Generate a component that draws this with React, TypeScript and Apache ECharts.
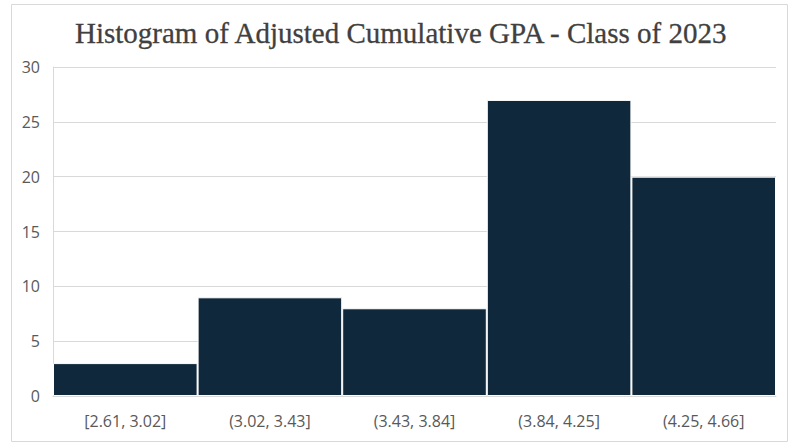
import React, { useEffect, useRef } from "react";
import * as echarts from "echarts";

const categories = ["[2.61, 3.02]", "(3.02, 3.43]", "(3.43, 3.84]", "(3.84, 4.25]", "(4.25, 4.66]"];
const counts = [3, 9, 8, 27, 20];
const yTicks = { min: 0, max: 30, interval: 5 };
const titleText = "Histogram of Adjusted Cumulative GPA - Class of 2023";

export default function App() {
  const ref = useRef<HTMLDivElement>(null);
  useEffect(() => {
    const chart = echarts.init(ref.current!, null, { renderer: "svg" });
    chart.setOption({
      animation: false,
      backgroundColor: "#ffffff",
      title: {
        text: titleText,
        left: 70,
        top: 13,
        textStyle: {
          fontFamily: "Liberation Serif",
          fontWeight: "normal",
          fontSize: 29,
          color: "#404040",
          textBorderColor: "#404040",
          textBorderWidth: 0.3,
        },
      },
      graphic: [
        {
          type: "rect",
          shape: { x: 11.5, y: 4.5, width: 776, height: 437 },
          style: { fill: "none", stroke: "#d9d9d9", lineWidth: 1 },
          silent: true,
        },
      ],
      grid: { left: 53, right: 13, top: 67, bottom: 47 },
      xAxis: {
        type: "category",
        data: categories,
        axisLine: { show: true, lineStyle: { color: "#d9d9d9" } },
        axisTick: { show: false },
        axisLabel: {
          color: "#595959",
          fontSize: 16,
          fontFamily: "Open Sans",
          margin: 17,
        },
      },
      yAxis: {
        type: "value",
        min: yTicks.min,
        max: yTicks.max,
        interval: yTicks.interval,
        axisLine: { show: true, lineStyle: { color: "#d9d9d9" } },
        axisTick: { show: false },
        splitLine: { lineStyle: { color: "#d9d9d9" } },
        axisLabel: {
          color: "#595959",
          fontSize: 16,
          fontFamily: "Open Sans",
          margin: 13,
        },
      },
      series: [
        {
          type: "bar",
          data: counts,
          barCategoryGap: 0,
          itemStyle: { color: "#0f283b", borderColor: "#ffffff", borderWidth: 1 },
        },
      ],
    });
    return () => chart.dispose();
  }, []);
  return (
    <div
      ref={ref}
      style={{ position: "absolute", left: 0, top: 0, width: 789, height: 443 }}
    />
  );
}
